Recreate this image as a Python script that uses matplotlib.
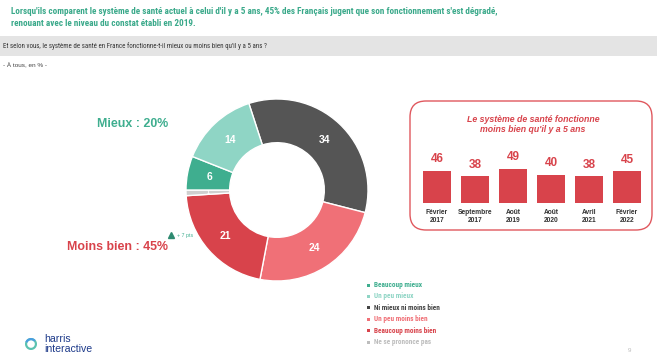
import matplotlib
matplotlib.use("Agg")
import matplotlib.pyplot as plt
from matplotlib import font_manager as fm
from matplotlib.patches import FancyBboxPatch, Rectangle, Wedge
import numpy as np

# donut data (clockwise from the top)
answers = ['Ni mieux ni moins bien', 'Un peu moins bien', 'Beaucoup moins bien',
           'Ne se prononce pas', 'Beaucoup mieux', 'Un peu mieux']
shares = [34, 24, 21, 1, 6, 14]
answer_colors = ['#555555', '#f07077', '#d8434b', '#cfcfcf', '#3fae8f', '#8fd5c5']

# legend order
legend_labels = ['Beaucoup mieux', 'Un peu mieux', 'Ni mieux ni moins bien',
                 'Un peu moins bien', 'Beaucoup moins bien', 'Ne se prononce pas']
legend_colors = ['#3fae8f', '#8fd5c5', '#444444', '#f07077', '#d8434b', '#bdbdbd']

# trend "moins bien"
waves = ['Février\n2017', 'Septembre\n2017', 'Août\n2019', 'Août\n2020', 'Avril\n2021', 'Février\n2022']
worse = [46, 38, 49, 40, 38, 45]

green = '#3aa98a'
red = '#d8434b'
W, H = 657, 361
sans = ['Liberation Sans', 'DejaVu Sans']

# look for a narrow face (the slide uses Arial Narrow)
narrow, stretch = sans, 'normal'
names = {f.name for f in fm.fontManager.ttflist}
for cand in ['Liberation Sans Narrow', 'Roboto Condensed', 'Open Sans Condensed', 'Noto Sans Condensed']:
    if cand in names:
        narrow = [cand, 'DejaVu Sans']
        break
else:
    if any(f.name == 'DejaVu Sans' and 'Condensed' in f.fname for f in fm.fontManager.ttflist):
        narrow, stretch = ['DejaVu Sans'], 'condensed'

fig = plt.figure(figsize=(W / 100, H / 100), dpi=100)
bg = fig.add_axes([0, 0, 1, 1])
bg.set_xlim(0, W)
bg.set_ylim(H, 0)
bg.axis('off')
renderer = fig.canvas.get_renderer()


def fit(txt, width):
    # shrink the text until it takes the same width as in the slide
    w = txt.get_window_extent(renderer).width
    txt.set_fontsize(txt.get_fontsize() * width / w)
    return txt.get_fontsize()


# header
t1 = bg.text(11, 11, "Lorsqu'ils comparent le système de santé actuel à celui d'il y a 5 ans, 45% des Français jugent que son fonctionnement s'est dégradé,",
             color=green, fontsize=7.6, fontweight='bold', family=narrow, fontstretch=stretch, va='center')
fs = fit(t1, 479)
bg.text(11, 24, "renouant avec le niveau du constat établi en 2019.",
        color=green, fontsize=fs, fontweight='bold', family=narrow, fontstretch=stretch, va='center')
bg.add_patch(Rectangle((0, 36), W, 20, facecolor='#e4e4e4', edgecolor='none'))
q = bg.text(3, 46, "Et selon vous, le système de santé en France fonctionne-t-il mieux ou moins bien qu'il y a 5 ans ?",
            color='#333333', fontsize=5.6, family=narrow, fontstretch=stretch, va='center')
fit(q, 259)
bg.text(3, 64, "- À tous, en % -", color='#444444', fontsize=4.6, family=sans, va='center')

# side labels
bg.text(168, 124, "Mieux : 20%", color='#3fae8f', fontsize=8.9, fontweight='bold',
        family=sans, ha='right', va='center')
bg.text(168, 247, "Moins bien : 45%", color=red, fontsize=8.9, fontweight='bold',
        family=sans, ha='right', va='center')
bg.plot([171], [235], marker='^', color='#2e8a70', markersize=4.5, linestyle='none')
bg.text(177, 235, "+ 7 pts", color='#3fae8f', fontsize=3.8, family=sans, va='center')

# donut
cx, cy, r = 277, 190, 91
pax = fig.add_axes([(cx - r) / W, 1 - (cy + r) / H, 2 * r / W, 2 * r / H])
wedges, _ = pax.pie(shares, colors=answer_colors, startangle=108, counterclock=False,
                    radius=1, wedgeprops=dict(width=0.48, edgecolor='white', linewidth=1))
pax.set_xlim(-1, 1)
pax.set_ylim(-1, 1)
for w, v in zip(wedges, shares):
    ang = np.deg2rad((w.theta1 + w.theta2) / 2)
    fsz = 4 if v < 3 else 7.5
    pax.text(0.76 * np.cos(ang), 0.76 * np.sin(ang), str(v), color='white',
             fontsize=fsz, fontweight='bold', family=sans, ha='center', va='center')

# legend
probe = bg.text(0, 0, legend_labels[2], fontsize=5.4, fontweight='bold', family=narrow, fontstretch=stretch)
lfs = fit(probe, 66)
probe.remove()
for i, (lab, col) in enumerate(zip(legend_labels, legend_colors)):
    y = 285 + i * 11.4
    bg.add_patch(Rectangle((367, y - 1.5), 3, 3, facecolor=col, edgecolor='none'))
    bg.text(374, y, lab, color=col, fontsize=lfs, fontweight='bold', family=narrow,
            fontstretch=stretch, va='center')

# trend box
bg.add_patch(FancyBboxPatch((410, 101), 242, 129, boxstyle='round,pad=0,rounding_size=16',
                            facecolor='white', edgecolor='#e0585e', linewidth=1))
bg.text(533, 119, "Le système de santé fonctionne", color=red, fontsize=6.3,
        fontweight='bold', style='italic', family=sans, ha='center', va='center')
bg.text(533, 130, "moins bien qu'il y a 5 ans", color=red, fontsize=6.3,
        fontweight='bold', style='italic', family=sans, ha='center', va='center')

base, step, scale = 203, 38, 0.7
bax = fig.add_axes([(437 - step / 2) / W, 1 - base / H, 6 * step / W, 70 * scale / H])
x = np.arange(len(worse))
bax.bar(x, worse, width=0.74, color=red)
bax.set_xlim(-0.5, len(worse) - 0.5)
bax.set_ylim(0, 70)
bax.axis('off')
for xi, v, lab in zip(x, worse, waves):
    bax.annotate(str(v), (xi, v), xytext=(0, 4), textcoords='offset points',
                 ha='center', va='bottom', color=red, fontsize=8.5, fontweight='bold', family=sans)
    bax.annotate(lab, (xi, 0), xytext=(0, -4), textcoords='offset points',
                 ha='center', va='top', color='#333333', fontsize=4.8, fontweight='bold',
                 family=sans, linespacing=1.3)

# logo
bg.add_patch(Wedge((31, 344), 6, 0, 360, width=2.2, facecolor='#5bc2b0', edgecolor='none'))
bg.add_patch(Wedge((31, 344), 6, 200, 320, width=2.2, facecolor='#4a9fe0', edgecolor='none'))
bg.text(44, 339, "harris", color='#1d3a8a', fontsize=7.6, family=sans, va='center')
bg.text(44, 349, "interactive", color='#1d3a8a', fontsize=7.6, family=sans, va='center')
bg.text(629, 350, "9", color='#bbbbbb', fontsize=4.5, family=sans, va='center', ha='center')

fig.savefig('out.png', dpi=100)
